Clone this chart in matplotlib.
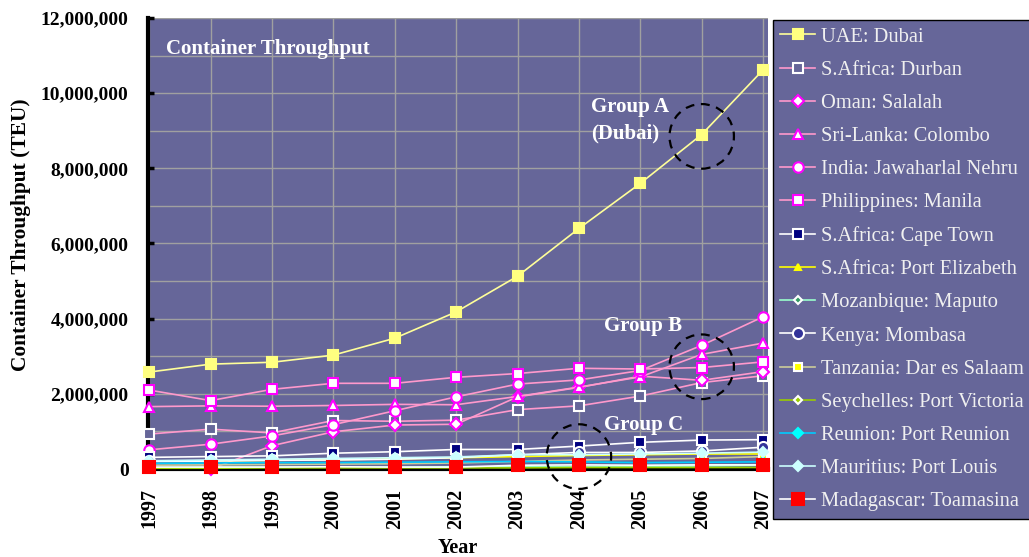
import matplotlib
matplotlib.use("Agg")
import matplotlib.pyplot as plt
from matplotlib.patches import Ellipse
from matplotlib.ticker import FuncFormatter, MultipleLocator

plt.rcParams['font.family'] = ['Liberation Serif', 'DejaVu Serif']

# Data (TEU)
years = [1997, 1998, 1999, 2000, 2001, 2002, 2003, 2004, 2005, 2006, 2007]

dubai = [2.58e6, 2.79e6, 2.84e6, 3.03e6, 3.48e6, 4.18e6, 5.13e6, 6.40e6, 7.60e6, 8.90e6, 10.62e6]
durban = [0.93e6, 1.06e6, 0.96e6, 1.29e6, 1.27e6, 1.30e6, 1.58e6, 1.68e6, 1.94e6, 2.30e6, 2.48e6]
salalah = [None, 0.0, 0.62e6, 0.99e6, 1.17e6, 1.19e6, 1.92e6, 2.17e6, 2.47e6, 2.36e6, 2.59e6]
colombo = [1.66e6, 1.68e6, 1.67e6, 1.69e6, 1.72e6, 1.71e6, 1.93e6, 2.18e6, 2.45e6, 3.05e6, 3.35e6]
jnpt = [0.51e6, 0.66e6, 0.88e6, 1.18e6, 1.55e6, 1.92e6, 2.26e6, 2.37e6, 2.62e6, 3.29e6, 4.05e6]
manila = [2.10e6, 1.82e6, 2.12e6, 2.28e6, 2.28e6, 2.44e6, 2.54e6, 2.68e6, 2.66e6, 2.70e6, 2.85e6]
cape_town = [0.31e6, 0.33e6, 0.35e6, 0.42e6, 0.46e6, 0.52e6, 0.52e6, 0.61e6, 0.71e6, 0.77e6, 0.78e6]
port_elizabeth = [0.21e6, 0.22e6, 0.23e6, 0.25e6, 0.27e6, 0.30e6, 0.33e6, 0.36e6, 0.38e6, 0.40e6, 0.40e6]
maputo = [0.04e6, 0.05e6, 0.05e6, 0.05e6, 0.05e6, 0.06e6, 0.06e6, 0.07e6, 0.07e6, 0.08e6, 0.10e6]
mombasa = [0.20e6, 0.21e6, 0.23e6, 0.24e6, 0.26e6, 0.30e6, 0.38e6, 0.44e6, 0.44e6, 0.48e6, 0.58e6]
dar_es_salaam = [0.10e6, 0.11e6, 0.12e6, 0.13e6, 0.14e6, 0.16e6, 0.20e6, 0.24e6, 0.26e6, 0.28e6, 0.33e6]
port_victoria = [0.02e6, 0.02e6, 0.03e6, 0.03e6, 0.03e6, 0.03e6, 0.03e6, 0.04e6, 0.04e6, 0.04e6, 0.04e6]
port_reunion = [0.15e6, 0.16e6, 0.17e6, 0.17e6, 0.18e6, 0.19e6, 0.20e6, 0.19e6, 0.17e6, 0.18e6, 0.19e6]
port_louis = [0.22e6, 0.24e6, 0.26e6, 0.28e6, 0.30e6, 0.32e6, 0.38e6, 0.38e6, 0.40e6, 0.42e6, 0.45e6]
toamasina = [0.05e6, 0.05e6, 0.05e6, 0.06e6, 0.05e6, 0.05e6, 0.10e6, 0.11e6, 0.10e6, 0.11e6, 0.11e6]

# label, values, line colour, marker, face, edge, size
series = [
    ("UAE: Dubai", dubai, "#FFFF99", "s", "#FFFF80", "#FFFF80", 7),
    ("S.Africa: Durban", durban, "#FF99CC", "s", "#666699", "white", 7),
    ("Oman: Salalah", salalah, "#FF99CC", "D", "white", "#FF00FF", 6),
    ("Sri-Lanka: Colombo", colombo, "#FF99CC", "^", "white", "#FF00FF", 7.5),
    ("India: Jawaharlal Nehru", jnpt, "#FF99CC", "o", "white", "#FF00FF", 7.5),
    ("Philippines: Manila", manila, "#FF99CC", "s", "white", "#FF00FF", 7),
    ("S.Africa: Cape Town", cape_town, "white", "s", "#000080", "white", 7),
    ("S.Africa: Port Elizabeth", port_elizabeth, "#FFFF00", "^", "#FFFF00", "#FFFF00", 5),
    ("Mozanbique: Maputo", maputo, "#99FFCC", "D", "#339966", "white", 4.5),
    ("Kenya: Mombasa", mombasa, "white", "o", "#333399", "white", 8),
    ("Tanzania: Dar es Salaam", dar_es_salaam, "#CCCC99", "s", "#FFFF00", "white", 6),
    ("Seychelles: Port Victoria", port_victoria, "#99CC00", "D", "#99CC00", "white", 4.5),
    ("Reunion: Port Reunion", port_reunion, "#00CCFF", "D", "#00FFFF", "#00FFFF", 5),
    ("Mauritius: Port Louis", port_louis, "#CCFFFF", "D", "#CCFFFF", "#CCFFFF", 5.5),
    ("Madagascar: Toamasina", toamasina, "white", "s", "#FF0000", "#FF0000", 9),
]

fig = plt.figure(figsize=(10.29, 5.57), dpi=100)
ax = fig.add_axes([148 / 1029, 1 - 469 / 557, 620 / 1029, 451 / 557])
ax.set_facecolor("#666699")

for label, vals, lc, mk, fc, ec, ms in series:
    ax.plot(years, [float('nan') if v is None else v for v in vals],
            color=lc, lw=1.2, marker=mk, markersize=ms,
            markerfacecolor=fc, markeredgecolor=ec, markeredgewidth=1.5,
            label=label, clip_on=False, zorder=3)

ax.set_xlim(1996.98, 2007.08)
ax.set_ylim(0, 12e6)
ax.yaxis.set_major_locator(MultipleLocator(2e6))
ax.yaxis.set_minor_locator(MultipleLocator(1e6))
ax.yaxis.set_major_formatter(FuncFormatter(lambda v, p: f"{v:,.0f}"))
ax.set_xticks(years)
ax.set_xticklabels([str(y) for y in years], rotation=90, fontsize=14.5, fontweight='bold')
for t in ax.get_yticklabels():
    t.set_fontsize(14)
    t.set_fontweight('bold')

ax.grid(True, which='both', color='#A0A0A0', lw=1, zorder=1)
ax.set_axisbelow(True)
ax.tick_params(axis='y', which='major', direction='in', length=4, width=2.5, pad=14)
ax.tick_params(axis='y', which='minor', length=0)
ax.tick_params(axis='x', length=0, pad=14)

for s in ['top', 'right']:
    ax.spines[s].set_visible(False)
ax.spines['left'].set_linewidth(3)
ax.spines['bottom'].set_linewidth(3)

ax.set_ylabel("Container Throughput (TEU)", fontsize=15.4, fontweight='bold', va='center')
ax.set_xlabel("Year", fontsize=14.5, fontweight='bold', va='center')
ax.yaxis.set_label_coords(-0.205, 0.52)
ax.xaxis.set_label_coords(0.5, -0.175)

# annotations
txt = dict(color='white', fontweight='bold', fontsize=15, transform=ax.transAxes, va='center', ha='left')
ax.text(0.029, 0.931, "Container Throughput", **txt)
ax.text(0.7145, 0.803, "Group A", **txt)
ax.text(0.7145, 0.745, "(Dubai)", **txt)
ax.text(0.735, 0.317, "Group B", **txt)
ax.text(0.735, 0.0976, "Group C", **txt)

for cx, cy in [(2006, 8.85e6), (2006, 2.72e6), (2004, 0.33e6)]:
    ax.add_patch(Ellipse((cx, cy), width=1.05, height=1.72e6, fill=False,
                         ec='black', lw=1.6, ls=(0, (4, 3)), clip_on=False, zorder=5))

leg = fig.legend(loc='upper left', bbox_to_anchor=(773 / 1029, 1 - 20 / 557),
                 fontsize=14.8, frameon=True, fancybox=False, framealpha=1,
                 facecolor='#666699', edgecolor='black', labelspacing=0.67,
                 handlelength=1.7, borderpad=0.35, handletextpad=0.3,
                 borderaxespad=0)
for t in leg.get_texts():
    t.set_color('#F0F0F0')

fig.savefig("out.png", dpi=100)
